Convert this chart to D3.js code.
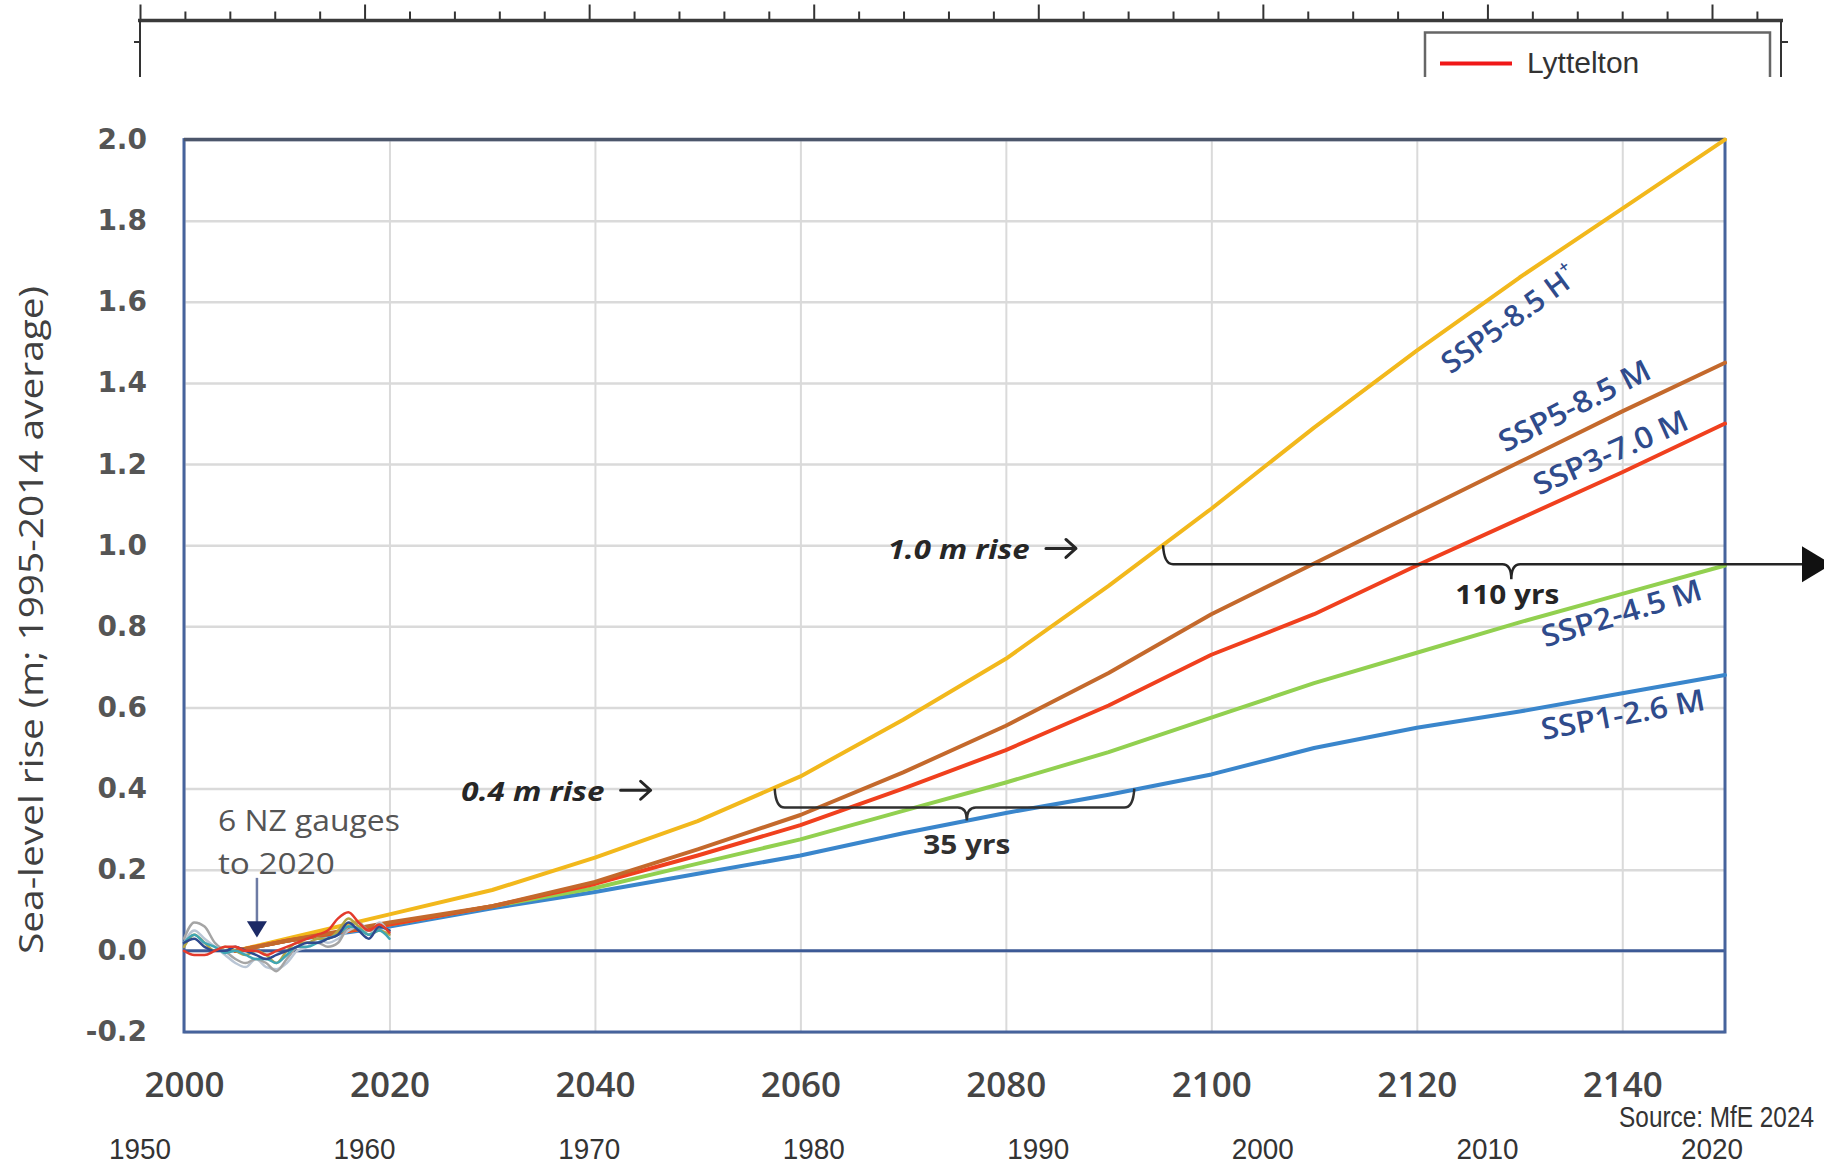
<!DOCTYPE html>
<html>
<head>
<meta charset="utf-8">
<script src="https://cdn.jsdelivr.net/npm/d3@7/dist/d3.min.js"></script>
<style>
  body { margin: 0; background: #ffffff; overflow: hidden; }
  svg { display: block; }
</style>
</head>
<body>
<svg id="chart" width="1824" height="1166"></svg>
<script>
// projection years and the five scenarios (m, relative to 1995-2014 average)
const projYears = [2005, 2010, 2020, 2030, 2040, 2050, 2060, 2070, 2080, 2090, 2100, 2110, 2120, 2130, 2140, 2150];
const ssp585H = [0.00, 0.03, 0.09, 0.15, 0.23, 0.32, 0.43, 0.57, 0.72, 0.90, 1.09, 1.29, 1.48, 1.66, 1.83, 2.00];
const ssp585M = [0.00, 0.025, 0.07, 0.11, 0.17, 0.25, 0.335, 0.44, 0.555, 0.685, 0.83, 0.955, 1.08, 1.205, 1.33, 1.45];
const ssp370M = [0.00, 0.025, 0.065, 0.11, 0.165, 0.235, 0.31, 0.40, 0.495, 0.605, 0.73, 0.83, 0.95, 1.065, 1.18, 1.30];
const ssp245M = [0.00, 0.025, 0.065, 0.11, 0.155, 0.215, 0.275, 0.345, 0.415, 0.49, 0.575, 0.66, 0.735, 0.81, 0.88, 0.95];
const ssp126M = [0.00, 0.025, 0.06, 0.105, 0.145, 0.19, 0.235, 0.29, 0.34, 0.385, 0.435, 0.50, 0.55, 0.59, 0.635, 0.68];

// six NZ tide gauges, annual values 2000-2020
const gaugeYears = [2000, 2001, 2002, 2003, 2004, 2005, 2006, 2007, 2008, 2009, 2010, 2011, 2012, 2013, 2014, 2015, 2016, 2017, 2018, 2019, 2020];
const gaugeLyttelton = [0.00, -0.01, -0.01, 0.00, 0.01, 0.01, 0.00, 0.00, -0.01, 0.00, 0.01, 0.02, 0.03, 0.04, 0.05, 0.08, 0.095, 0.07, 0.05, 0.065, 0.045];
const gaugeGrey = [0.03, 0.07, 0.06, 0.02, 0.00, -0.02, -0.03, -0.02, -0.03, -0.05, -0.02, 0.01, 0.02, 0.02, 0.01, 0.02, 0.06, 0.07, 0.05, 0.06, 0.05];
const gaugePale = [0.02, 0.05, 0.03, 0.01, -0.01, -0.03, -0.04, -0.02, -0.04, -0.045, -0.03, 0.00, 0.01, 0.03, 0.02, 0.03, 0.05, 0.06, 0.04, 0.07, 0.04];
const gaugeOlive = [0.01, 0.04, 0.02, 0.00, 0.01, 0.00, -0.01, 0.00, -0.01, -0.03, 0.00, 0.02, 0.02, 0.03, 0.03, 0.05, 0.08, 0.06, 0.04, 0.05, 0.04];
const gaugeNavy = [0.02, 0.03, 0.01, 0.00, 0.00, 0.01, 0.00, -0.01, -0.02, -0.01, 0.00, 0.01, 0.02, 0.02, 0.03, 0.04, 0.07, 0.05, 0.03, 0.06, 0.05];
const gaugeTeal = [0.02, 0.04, 0.02, 0.01, -0.005, 0.00, -0.01, -0.02, -0.02, -0.03, -0.01, 0.01, 0.01, 0.02, 0.03, 0.04, 0.06, 0.055, 0.04, 0.05, 0.03];

// axis ticks
const yTicks = [-0.2, 0.0, 0.2, 0.4, 0.6, 0.8, 1.0, 1.2, 1.4, 1.6, 1.8, 2.0];
const xTicks = [2000, 2020, 2040, 2060, 2080, 2100, 2120, 2140];
const backMajor = [1950, 1960, 1970, 1980, 1990, 2000, 2010, 2020];
const backMinor = [1952, 1954, 1956, 1958, 1962, 1964, 1966, 1968, 1972, 1974, 1976, 1978, 1982, 1984, 1986, 1988,
                   1992, 1994, 1996, 1998, 2002, 2004, 2006, 2008, 2012, 2014, 2016, 2018, 2022];

const svg = d3.select('#chart');
const svg_width = 1824;
const svg_height = 1166;

// main chart area
const plot = { left: 184, right: 1725, top: 139.6, bottom: 1032 };
const xScale = d3.scaleLinear().domain([2000, 2150]).range([plot.left, plot.right]);
const yScale = d3.scaleLinear().domain([-0.2, 2.0]).range([plot.bottom, plot.top]);

// the older chart sitting behind (only its top strip and year labels show)
const xBack = d3.scaleLinear().domain([1950, 2020]).range([140, 1712]);

const frame_color = "#46639c";
const grid_color = "#dadada";
const label_navy = "#2f4b8c";
const calibri = "'Open Sans', 'Noto Sans', sans-serif";
const helv = "'Liberation Sans', Arial, sans-serif";

//---------------- background chart: top strip ----------------
function drawBackStrip() {
    svg.append("clipPath").attr("id", "stripClip")
        .append("rect").attr("x", 0).attr("y", 0).attr("width", svg_width).attr("height", 80);
    const g = svg.append("g").attr("clip-path", "url(#stripClip)");

    const axisY = 20.5;
    const major = d3.axisTop(xBack).tickValues(backMajor).tickSize(16).tickFormat("");
    const minor = d3.axisTop(xBack).tickValues(backMinor).tickSize(9).tickFormat("");
    [major, minor].forEach(ax => {
        const a = g.append("g").attr("transform", `translate(0,${axisY})`).call(ax);
        a.select(".domain").remove();
        a.selectAll("line").attr("stroke", "#333").attr("stroke-width", 2);
    });

    // axis line and frame sides
    g.append("line").attr("x1", 138).attr("x2", 1783).attr("y1", axisY).attr("y2", axisY)
        .attr("stroke", "#3a3a3a").attr("stroke-width", 3.5);
    g.append("line").attr("x1", 140).attr("x2", 140).attr("y1", axisY).attr("y2", 77)
        .attr("stroke", "#333").attr("stroke-width", 2);
    g.append("line").attr("x1", 1781).attr("x2", 1781).attr("y1", axisY).attr("y2", 77)
        .attr("stroke", "#333").attr("stroke-width", 2);
    g.append("line").attr("x1", 134).attr("x2", 140).attr("y1", 42).attr("y2", 42).attr("stroke", "#333").attr("stroke-width", 2);
    g.append("line").attr("x1", 1781).attr("x2", 1788).attr("y1", 42).attr("y2", 42).attr("stroke", "#333").attr("stroke-width", 2);

    // legend box, its lower part hidden under the main chart
    g.append("path").attr("d", "M1425,77V32.5H1770V77")
        .attr("fill", "#fff").attr("stroke", "#666").attr("stroke-width", 2.5);
    g.append("line").attr("x1", 1440).attr("x2", 1512).attr("y1", 63.5).attr("y2", 63.5)
        .attr("stroke", "#f01818").attr("stroke-width", 4);
    g.append("text").text("Lyttelton").attr("x", 1527).attr("y", 73)
        .attr("font-family", helv).attr("font-size", 30).attr("fill", "#333");
}

// year labels of the background chart along the bottom edge
function drawBackLabels() {
    svg.append("g").selectAll("text").data(backMajor).join("text")
        .text(d => d).attr("x", d => xBack(d)).attr("y", 1159)
        .attr("text-anchor", "middle").attr("font-family", helv).attr("font-size", 29)
        .attr("textLength", 62).attr("lengthAdjust", "spacingAndGlyphs")
        .attr("fill", "#333");

    // condensed source line
    svg.append("g").attr("transform", "translate(1814,1127) scale(0.84,1)")
        .append("text").text("Source: MfE 2024").attr("x", 0).attr("y", 0)
        .attr("text-anchor", "end").attr("font-family", helv).attr("font-size", 29)
        .attr("fill", "#333");
}

//---------------- main chart ----------------
function drawAxes() {
    const gy = svg.append("g").attr("transform", `translate(${plot.left},0)`)
        .call(d3.axisLeft(yScale).tickValues(yTicks).tickSize(-(plot.right - plot.left))
            .tickPadding(37).tickFormat(d => d.toFixed(1)));
    gy.select(".domain").remove();
    gy.selectAll("line").attr("stroke", grid_color).attr("stroke-width", 2.5);
    gy.selectAll("text").attr("font-family", "'DejaVu Sans', Verdana, sans-serif")
        .attr("font-weight", "bold").attr("font-size", 28).attr("fill", "#555");

    const gx = svg.append("g").attr("transform", `translate(0,${plot.bottom})`)
        .call(d3.axisBottom(xScale).tickValues(xTicks).tickSize(-(plot.bottom - plot.top))
            .tickPadding(40).tickFormat(d => d));
    gx.select(".domain").remove();
    gx.selectAll("line").attr("stroke", grid_color).attr("stroke-width", 2);
    gx.selectAll("text").attr("font-family", calibri).attr("font-size", 35)
        .attr("font-weight", 600).attr("fill", "#454545");

    // y-axis title
    svg.append("text").text("Sea-level rise (m; 1995-2014 average)")
        .attr("transform", "translate(43,620) rotate(-90)")
        .attr("text-anchor", "middle").attr("font-family", calibri).attr("font-size", 32)
        .attr("textLength", 668).attr("lengthAdjust", "spacingAndGlyphs")
        .attr("fill", "#404040");
}

function drawFrame() {
    // zero line
    svg.append("line").attr("x1", plot.left).attr("x2", plot.right)
        .attr("y1", yScale(0)).attr("y2", yScale(0))
        .attr("stroke", "#3c5a96").attr("stroke-width", 3);
    svg.append("rect").attr("x", plot.left).attr("y", plot.top)
        .attr("width", plot.right - plot.left).attr("height", plot.bottom - plot.top)
        .attr("fill", "none").attr("stroke", frame_color).attr("stroke-width", 3);
    svg.append("line").attr("x1", plot.left).attr("x2", plot.right)
        .attr("y1", plot.top).attr("y2", plot.top)
        .attr("stroke", "#4c566b").attr("stroke-width", 3.5);
}

const projLine = d3.line().x(d => xScale(d[0])).y(d => yScale(d[1]));
const gaugeLine = d3.line().x(d => xScale(d[0])).y(d => yScale(d[1])).curve(d3.curveMonotoneX);

function drawSeries(years, values, color, width, gen) {
    svg.append("path").datum(years.map((y, i) => [y, values[i]]))
        .attr("d", gen).attr("fill", "none")
        .attr("stroke", color).attr("stroke-width", width)
        .attr("stroke-linejoin", "round").attr("stroke-linecap", "round");
}

// rotated scenario label starting at (year, value)
function drawSeriesLabel(txt, sup, year, value, angle, len) {
    const t = svg.append("text")
        .attr("transform", `translate(${xScale(year)},${yScale(value)}) rotate(${angle})`)
        .attr("font-family", calibri).attr("font-size", 30).attr("font-weight", 600)
        .attr("fill", label_navy);
    const main = t.append("tspan").text(txt);
    if (len) main.attr("textLength", len).attr("lengthAdjust", "spacingAndGlyphs");
    if (sup) t.append("tspan").text(sup).attr("font-size", 17).attr("dy", -15);
}

function drawNote(txt, year, value, opts) {
    const t = svg.append("text").text(txt)
        .attr("x", xScale(year)).attr("y", yScale(value))
        .attr("font-family", calibri).attr("font-size", opts.size || 26)
        .attr("font-weight", opts.weight || "normal").attr("font-style", opts.style || "normal")
        .attr("text-anchor", opts.anchor || "start").attr("fill", opts.fill || "#262626");
    if (opts.len) t.attr("textLength", opts.len).attr("lengthAdjust", "spacingAndGlyphs");
}

// small "→" drawn after a note, centred on a level
function drawPointer(year, value, len) {
    const x = xScale(year), y = yScale(value);
    svg.append("path")
        .attr("d", `M${x},${y}H${x + len}M${x + len - 10},${y - 9}L${x + len},${y}L${x + len - 10},${y + 9}`)
        .attr("fill", "none").attr("stroke", "#262626").attr("stroke-width", 3)
        .attr("stroke-linecap", "round").attr("stroke-linejoin", "round");
}

// brace under a level, pointing down at its middle
function drawBrace(y1, y2, yMid, level, drop) {
    const x1 = xScale(y1), x2 = xScale(y2), xm = xScale(yMid);
    const top = yScale(level), bar = top + drop;
    const p = d3.path();
    p.moveTo(x1, top);
    p.quadraticCurveTo(x1 + 1, bar, x1 + 10, bar);
    p.lineTo(xm - 9, bar);
    p.quadraticCurveTo(xm, bar, xm, bar + 13);
    p.quadraticCurveTo(xm, bar, xm + 9, bar);
    p.lineTo(x2 - 10, bar);
    p.quadraticCurveTo(x2 - 1, bar, x2, top);
    svg.append("path").attr("d", p.toString()).attr("fill", "none")
        .attr("stroke", "#303030").attr("stroke-width", 2.5);
}

// half brace that runs off to the right as an arrow
function drawBraceArrow(y1, yMid, level, drop) {
    const x1 = xScale(y1), xm = xScale(yMid);
    const top = yScale(level), bar = top + drop;
    const xEnd = svg_width - 22;
    const p = d3.path();
    p.moveTo(x1, top);
    p.quadraticCurveTo(x1 + 1, bar, x1 + 10, bar);
    p.lineTo(xm - 9, bar);
    p.quadraticCurveTo(xm, bar, xm, bar + 15);
    p.quadraticCurveTo(xm, bar, xm + 9, bar);
    p.lineTo(xEnd, bar);
    svg.append("path").attr("d", p.toString()).attr("fill", "none")
        .attr("stroke", "#252525").attr("stroke-width", 2.5);
    svg.append("path").attr("d", `M${xEnd},${bar - 18}L${xEnd + 30},${bar}L${xEnd},${bar + 18}Z`)
        .attr("fill", "#111");
}

function drawGaugeArrow() {
    const x = xScale(2007.1);
    svg.append("line").attr("x1", x).attr("x2", x)
        .attr("y1", yScale(0.18)).attr("y2", yScale(0.07))
        .attr("stroke", "#6d7ba4").attr("stroke-width", 2.5);
    const tip = yScale(0.033), base = yScale(0.073);
    svg.append("path").attr("d", `M${x - 10},${base}L${x + 10},${base}L${x},${tip}Z`)
        .attr("fill", "#1c2a66");
}

drawBackStrip();
drawBackLabels();
drawAxes();
drawFrame();

drawSeries(projYears, ssp126M, "#3a86cc", 4, projLine);
drawSeries(projYears, ssp245M, "#92d050", 4, projLine);
drawSeries(projYears, ssp585H, "#f2b81c", 4, projLine);
drawSeries(projYears, ssp370M, "#f0401e", 4, projLine);
drawSeries(projYears, ssp585M, "#c4692c", 4, projLine);

drawSeries(gaugeYears, gaugePale, "#b9c5d4", 2.5, gaugeLine);
drawSeries(gaugeYears, gaugeGrey, "#a5a5a5", 2.5, gaugeLine);
drawSeries(gaugeYears, gaugeOlive, "#b3a645", 2.5, gaugeLine);
drawSeries(gaugeYears, gaugeTeal, "#3fa6b4", 2.5, gaugeLine);
drawSeries(gaugeYears, gaugeNavy, "#2e4a8f", 2.5, gaugeLine);
drawSeries(gaugeYears, gaugeLyttelton, "#e33a2c", 2.5, gaugeLine);

drawSeriesLabel("SSP5-8.5 H", "+", 2123.3, 1.420, -36, 150);
drawSeriesLabel("SSP5-8.5 M", null, 2128.6, 1.228, -27, 166);
drawSeriesLabel("SSP3-7.0 M", null, 2131.9, 1.122, -24, 166);
drawSeriesLabel("SSP2-4.5 M", null, 2132.5, 0.748, -17, 166);
drawSeriesLabel("SSP1-2.6 M", null, 2132.3, 0.520, -10.5, 166);

drawBrace(2057.5, 2092.5, 2076.2, 0.4, 19);
drawBraceArrow(2095.3, 2129.2, 1.0, 19);
drawGaugeArrow();

drawNote("0.4 m rise", 2027.0, 0.369, { size: 27, weight: "bold", style: "italic", len: 143 });
drawPointer(2042.5, 0.396, 30);
drawNote("1.0 m rise", 2068.5, 0.965, { size: 27, weight: "bold", style: "italic", len: 142 });
drawPointer(2083.9, 0.992, 30);
drawNote("35 yrs", 2076.2, 0.238, { size: 26, weight: "bold", anchor: "middle", len: 87, fill: "#303030" });
drawNote("110 yrs", 2128.8, 0.854, { size: 26, weight: "bold", anchor: "middle", len: 104, fill: "#252525" });
drawNote("6 NZ gauges", 2003.3, 0.295, { size: 30, len: 182, fill: "#555" });
drawNote("to 2020", 2003.3, 0.189, { size: 30, len: 117, fill: "#555" });
</script>
</body>
</html>
